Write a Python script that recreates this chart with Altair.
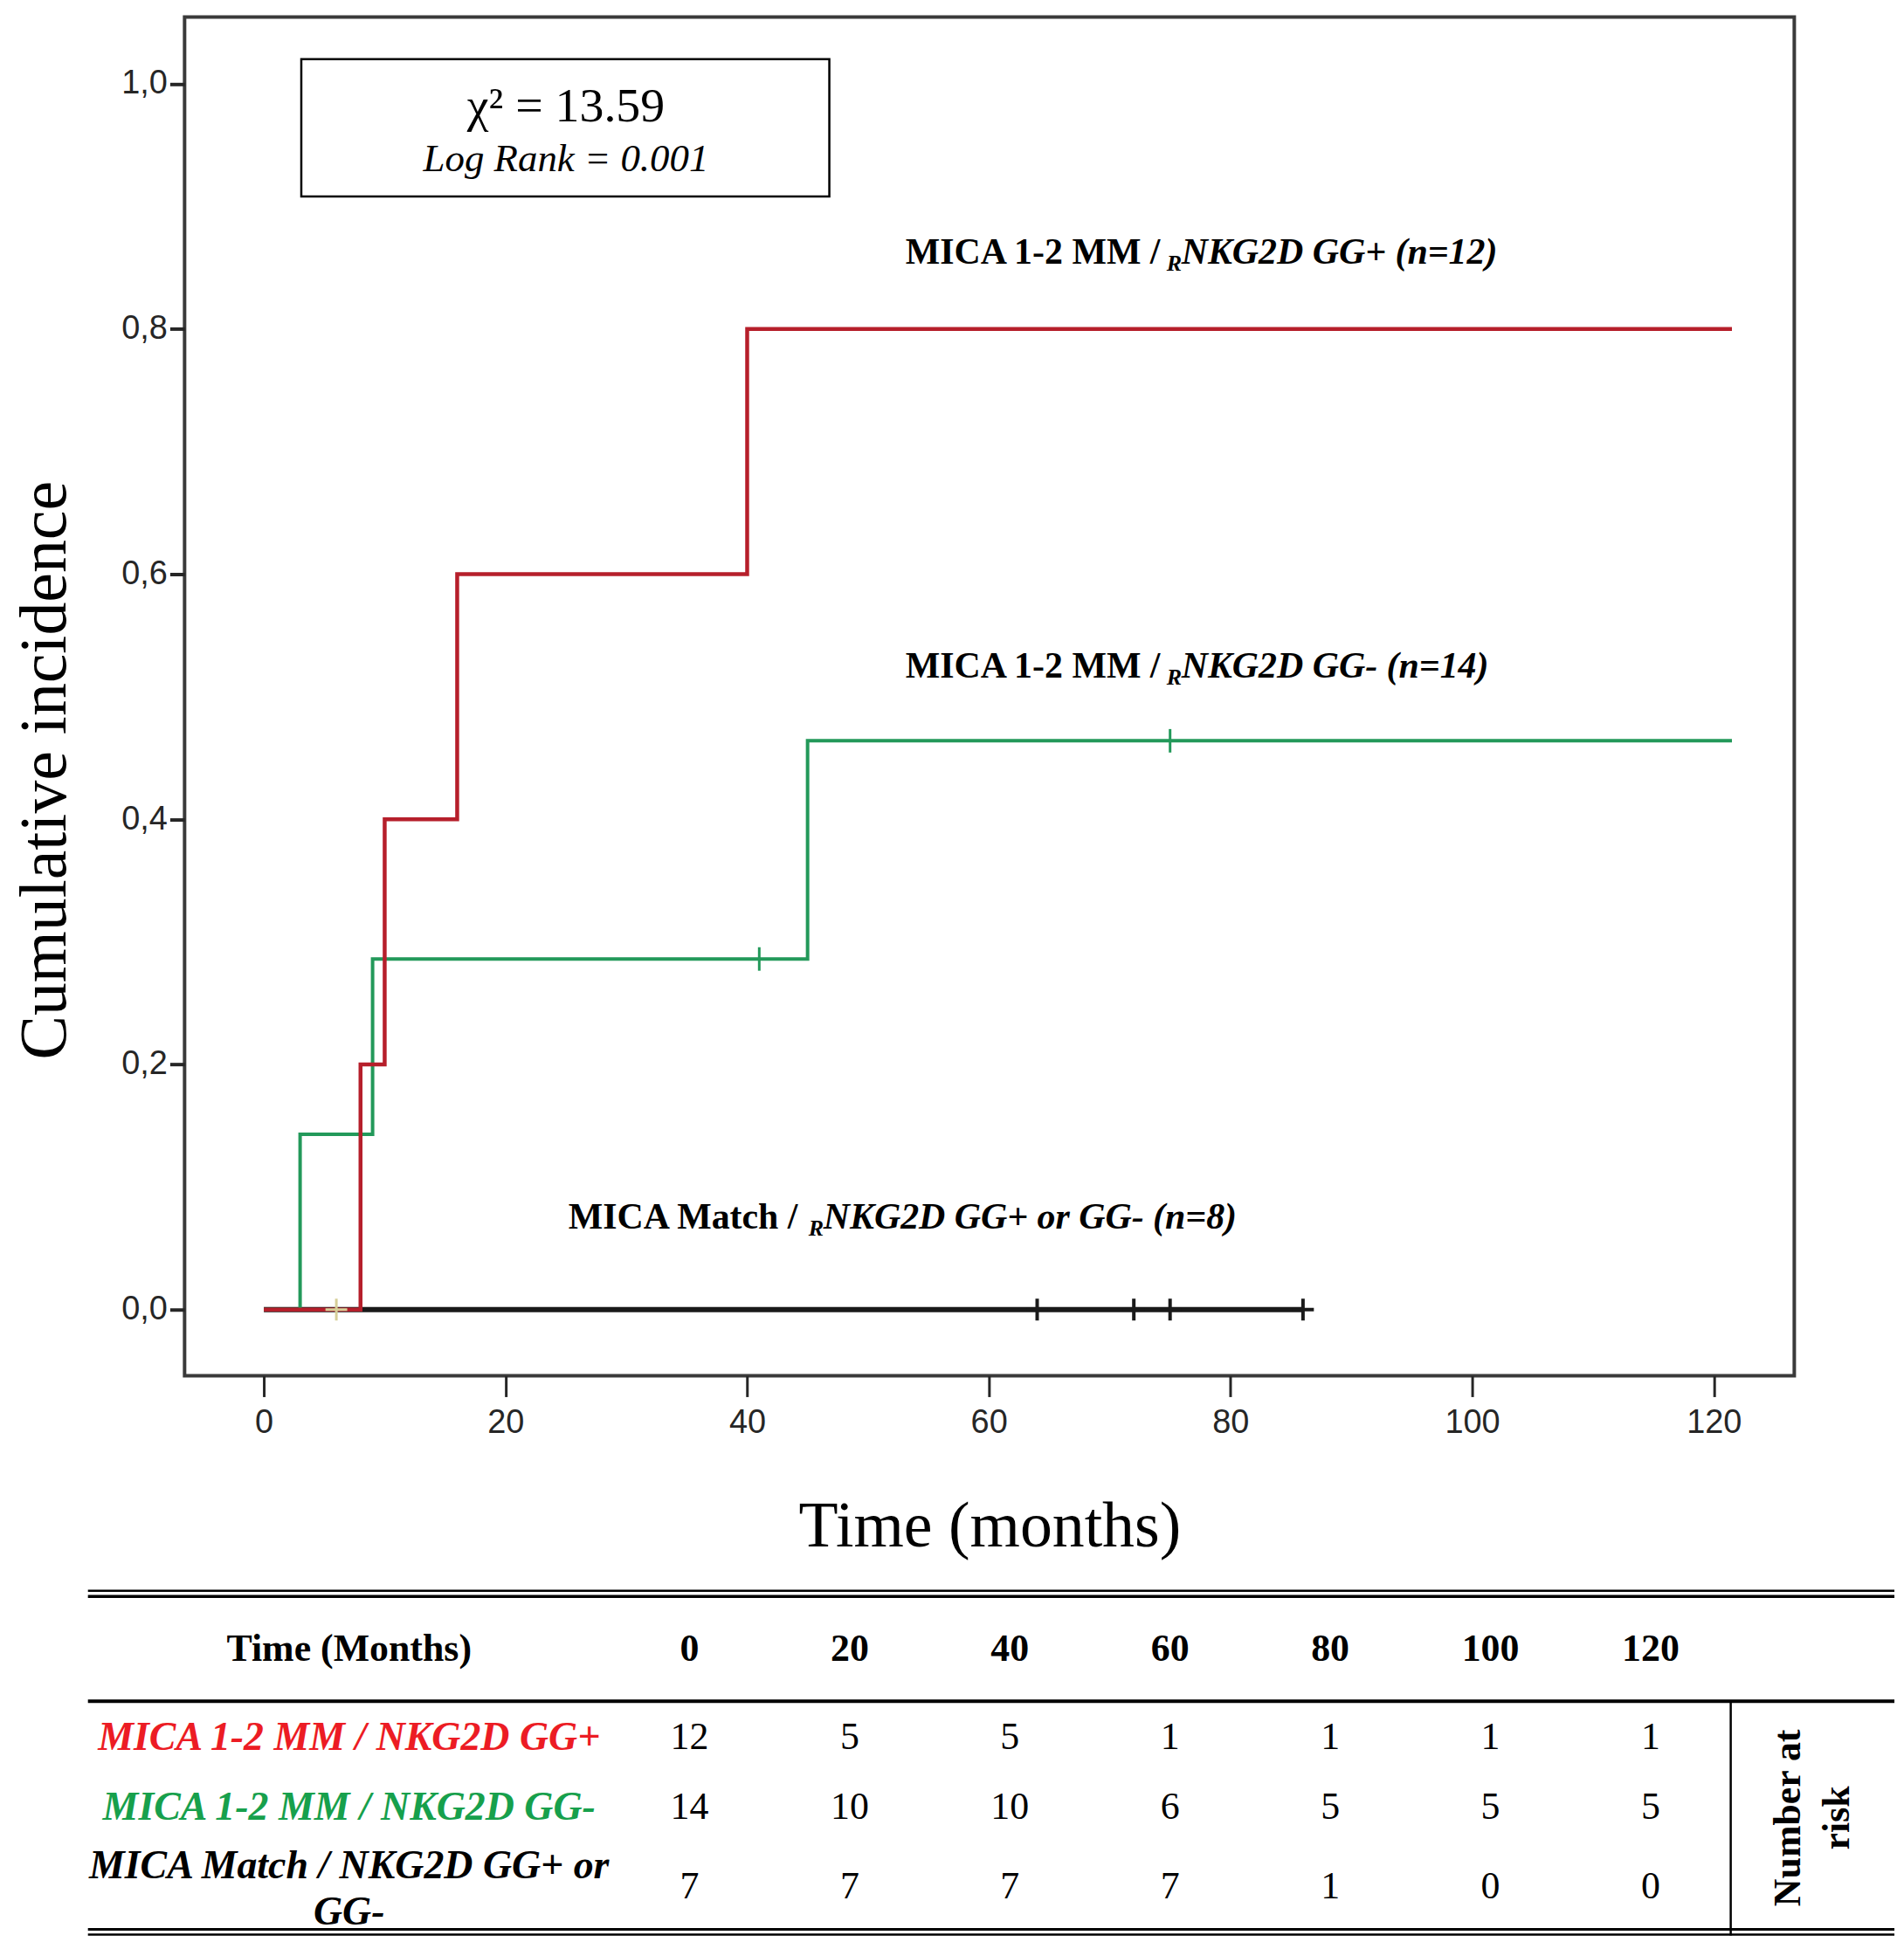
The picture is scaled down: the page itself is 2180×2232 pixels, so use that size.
import altair as alt
import pandas as pd

# ---------------- data ----------------
red_time = [0, 8, 10, 16, 40, 121.5]
red_inc = [0.0, 0.2, 0.4, 0.6, 0.8, 0.8]
green_time = [0, 3, 9, 45, 121.5]
green_inc = [0.0, 0.143, 0.286, 0.464, 0.464]
black_time = [0, 86]
black_inc = [0.0, 0.0]

green_cens_time = [41, 75]
green_cens_inc = [0.286, 0.464]
black_cens_time = [64, 72, 75, 86]
black_cens_inc = [0.0, 0.0, 0.0, 0.0]
beige_cens_time = [6]
beige_cens_inc = [0.0]

x_ticks = [0, 20, 40, 60, 80, 100, 120]
y_ticks = [0.0, 0.2, 0.4, 0.6, 0.8, 1.0]

risk_times = [0, 20, 40, 60, 80, 100, 120]
risk_red = [12, 5, 5, 1, 1, 1, 1]
risk_green = [14, 10, 10, 6, 5, 5, 5]
risk_black = [7, 7, 7, 7, 1, 0, 0]

row_keys = ["hdr", "red", "green", "black"]
row_labels = ["Time (Months)", "MICA 1-2 MM / NKG2D GG+", "MICA 1-2 MM / NKG2D GG-",
              "MICA Match / NKG2D GG+ or\nGG-"]

chi_text = "\u03c7\u00b2 = 13.59"
logrank_text = "Log Rank = 0.001"
curve_labels_a = ["MICA 1-2 MM / ", "MICA 1-2 MM / ", "MICA Match / "]
curve_labels_b = ["NKG2D GG+ (n=12)", "NKG2D GG- (n=14)", "NKG2D GG+ or GG- (n=8)"]

# ---------------- styles ----------------
RED = "#b61f2b"
GREEN = "#23995a"
BLACK = "#1a1a1a"
BEIGE = "#d6cf98"
SERIF = "Liberation Serif"
SANS = "Liberation Sans"

W, H = 1849, 1561

xs = alt.Scale(domain=[-6.56, 126.66], nice=False, zero=False)
ys = alt.Scale(domain=[-0.054, 1.0544], nice=False, zero=False)

x_axis = alt.Axis(values=x_ticks, format="d", title="Time (months)", grid=False, domain=False,
                  tickSize=24, tickWidth=3, tickColor="#262626",
                  labelFont=SANS, labelFontSize=38, labelColor="#262626", labelPadding=11,
                  titleFont=SERIF, titleFontSize=74, titleFontWeight="normal", titleColor="black",
                  titleBaseline="alphabetic", titleY=196)
y_axis = alt.Axis(values=y_ticks, labelExpr="replace(format(datum.value, '.1f'), '.', ',')",
                  title="Cumulative incidence", grid=False, domain=False,
                  tickSize=17, tickWidth=4, tickColor="#262626",
                  labelFont=SANS, labelFontSize=38, labelColor="#262626", labelPadding=3,
                  titleFont=SERIF, titleFontSize=76, titleFontWeight="normal", titleColor="black",
                  titleAngle=270, titleBaseline="alphabetic", titleAlign="center",
                  titleX=-137, titleY=865)

X = alt.X("t:Q", scale=xs, axis=x_axis)
Y = alt.Y("v:Q", scale=ys, axis=y_axis)


def curve(ts, vs, color, sw):
    df = pd.DataFrame({"t": ts, "v": vs})
    return alt.Chart(df).mark_line(interpolate="step-after", color=color, strokeWidth=sw).encode(x=X, y=Y)


def censor(ts, vs, color, shape, size, sw):
    df = pd.DataFrame({"t": ts, "v": vs})
    return alt.Chart(df).mark_point(shape=shape, size=size, filled=False, stroke=color,
                                    strokeWidth=sw, opacity=1).encode(x=X, y=Y)


VBAR = "M0,-1L0,1"
PLUS = "M-1,0L1,0M0,-1L0,1"

black_line = curve(black_time, black_inc, BLACK, 6)
green_line = curve(green_time, green_inc, GREEN, 4)
red_line = curve(red_time, red_inc, RED, 4.5)
green_c = censor(green_cens_time, green_cens_inc, GREEN, VBAR, 729, 3)
black_c = censor(black_cens_time, black_cens_inc, BLACK, PLUS, 625, 4)
beige_c = censor(beige_cens_time, beige_cens_inc, BEIGE, PLUS, 625, 3)

# annotation box
box_df = pd.DataFrame({"t": [3.1], "t2": [46.8], "v": [1.020], "v2": [0.908]})
box = alt.Chart(box_df).mark_rect(fillOpacity=0, stroke="black", strokeWidth=2.5).encode(
    x=alt.X("t:Q", scale=xs, axis=x_axis), x2="t2:Q", y=alt.Y("v:Q", scale=ys, axis=y_axis), y2="v2:Q")

chi_df = pd.DataFrame({"t": [25.0], "v": [0.969], "s": [chi_text]})
chi = alt.Chart(chi_df).mark_text(font=SERIF, fontSize=56, align="center", baseline="alphabetic",
                                  color="black").encode(x=X, y=Y, text="s:N")
lr_df = pd.DataFrame({"t": [25.0], "v": [0.9287], "s": [logrank_text]})
lr = alt.Chart(lr_df).mark_text(font=SERIF, fontSize=45, fontStyle="italic", align="center",
                                baseline="alphabetic", color="black").encode(x=X, y=Y, text="s:N")

# curve labels (three parts each: bold text, subscript R, bold italic text)
lab_pos_t = [53.1, 53.1, 25.2]
lab_pos_v = [0.853, 0.5154, 0.066]
lab_dx_r = [300, 300, 276]
lab_dx_b = [317, 317, 293]

label_layers = []
for i in range(3):
    dfa = pd.DataFrame({"t": [lab_pos_t[i]], "v": [lab_pos_v[i]], "s": [curve_labels_a[i]]})
    dfr = pd.DataFrame({"t": [lab_pos_t[i]], "v": [lab_pos_v[i]], "s": ["R"]})
    dfb = pd.DataFrame({"t": [lab_pos_t[i]], "v": [lab_pos_v[i]], "s": [curve_labels_b[i]]})
    label_layers.append(alt.Chart(dfa).mark_text(font=SERIF, fontSize=42, fontWeight="bold",
                                                 align="left", baseline="alphabetic", color="black")
                        .encode(x=X, y=Y, text="s:N"))
    label_layers.append(alt.Chart(dfr).mark_text(font=SERIF, fontSize=26, fontWeight="bold",
                                                 fontStyle="italic", align="left", baseline="alphabetic",
                                                 dx=lab_dx_r[i], dy=8, color="black")
                        .encode(x=X, y=Y, text="s:N"))
    label_layers.append(alt.Chart(dfb).mark_text(font=SERIF, fontSize=42, fontWeight="bold",
                                                 fontStyle="italic", align="left", baseline="alphabetic",
                                                 dx=lab_dx_b[i], color="black")
                        .encode(x=X, y=Y, text="s:N"))

top = alt.layer(black_line, green_line, red_line, black_c, beige_c, green_c,
                box, chi, lr, *label_layers).properties(
    width=W, height=H, view=alt.ViewBackground(stroke="#3a3a3a", strokeWidth=4))

# ---------------- number-at-risk table ----------------
TW, TH = W, 425
txs = alt.Scale(domain=[-63.04, 137.93], nice=False, zero=False)
tys = alt.Scale(type="point", domain=row_keys, range=[92, 364], padding=0)
row_dy = {"red": 10, "green": 0, "black": 0}
row_color = {"red": "#ec1c24", "green": "#17a04c", "black": "#000000"}

TX = alt.X("time:Q", scale=txs, axis=None)
TY = alt.Y("row:N", scale=tys, axis=None)

hdr_df = pd.DataFrame({"time": risk_times, "row": ["hdr"] * 7, "s": [str(t) for t in risk_times]})
hdr = alt.Chart(hdr_df).mark_text(font=SERIF, fontSize=44, fontWeight="bold", color="black",
                                  baseline="middle").encode(x=TX, y=TY, text="s:N")

lab_hdr = alt.Chart(pd.DataFrame({"row": ["hdr"], "s": [row_labels[0]]})).mark_text(
    font=SERIF, fontSize=44, fontWeight="bold", color="black", baseline="middle").encode(
    x=alt.value(189), y=TY, text="s:N")

row_layers = []
for key, vals, lab in zip(["red", "green", "black"], [risk_red, risk_green, risk_black], row_labels[1:]):
    ndf = pd.DataFrame({"time": risk_times, "row": [key] * 7, "s": [str(v) for v in vals]})
    row_layers.append(alt.Chart(ndf).mark_text(font=SERIF, fontSize=44, color="black",
                                               baseline="middle", dy=row_dy[key])
                      .encode(x=TX, y=TY, text="s:N"))
    nlines = lab.count("\n") + 1
    ldf = pd.DataFrame({"row": [key], "s": [lab]})
    row_layers.append(alt.Chart(ldf).mark_text(font=SERIF, fontSize=46, fontWeight="bold",
                                               fontStyle="italic", baseline="middle",
                                               lineBreak="\n", lineHeight=53,
                                               dy=row_dy[key] - (nlines - 1) * 26.5 + (nlines - 1) * 3,
                                               color=row_color[key])
                      .encode(x=alt.value(189), y=TY, text="s:N"))

nar_df = pd.DataFrame({"s": ["Number at\nrisk"]})
nar = alt.Chart(nar_df).mark_text(font=SERIF, fontSize=44, fontWeight="bold", color="black",
                                  angle=270, align="center", baseline="middle",
                                  lineBreak="\n", lineHeight=56).encode(
    x=alt.value(1843), y=alt.value(285), text="s:N")

one = pd.DataFrame({"k": [0]})


def hrule(ypix, sw):
    return alt.Chart(one).mark_rule(color="black", strokeWidth=sw).encode(
        x=alt.value(-111), x2=alt.value(1964), y=alt.value(ypix))


vrule = alt.Chart(one).mark_rule(color="black", strokeWidth=2.5).encode(
    x=alt.value(1776), y=alt.value(151), y2=alt.value(420))

table = alt.layer(hrule(24, 2.5), hrule(30.5, 3.5), hrule(151, 4), hrule(413, 3), hrule(419, 2.5),
                  vrule, hdr, lab_hdr, *row_layers, nar).properties(
    width=TW, height=TH, view=alt.ViewBackground(stroke="transparent"))

chart = alt.vconcat(top, table, spacing=223, bounds="flush").properties(
    padding={"left": 4, "top": 6, "right": 0, "bottom": 0}, background="white")

chart.save("out.html", embed_options={"renderer": "svg", "actions": False})
